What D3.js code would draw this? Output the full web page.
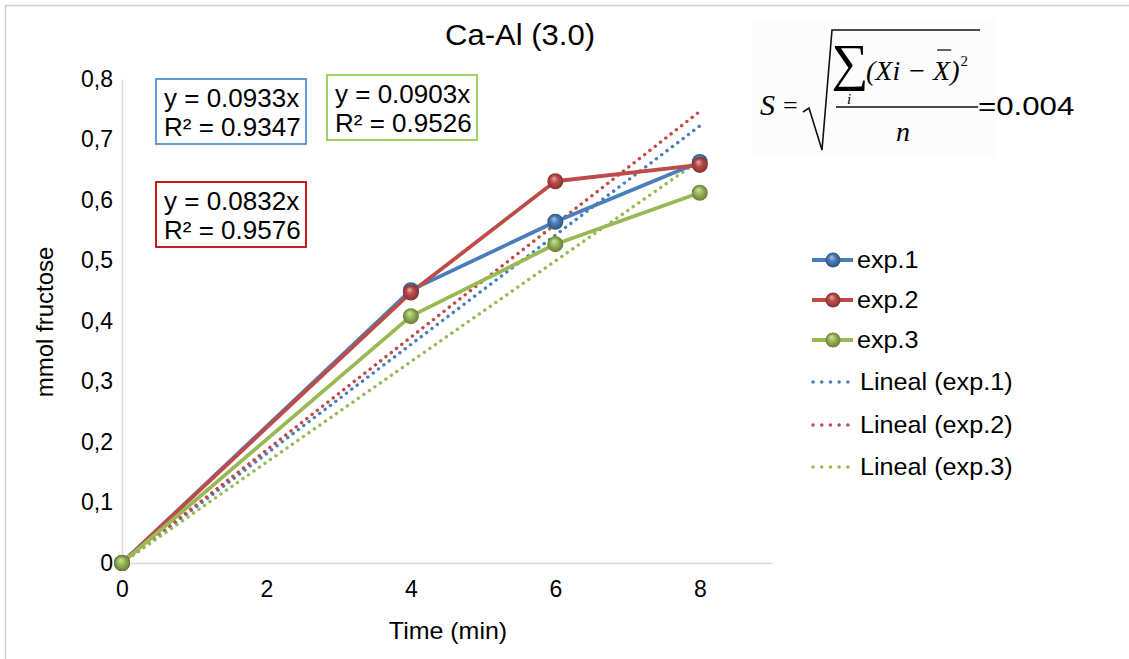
<!DOCTYPE html>
<html>
<head>
<meta charset="utf-8">
<script src="https://cdn.jsdelivr.net/npm/d3@7"></script>
<style>
  html, body { margin: 0; padding: 0; background: #fff; }
  svg { display: block; font-family: "Liberation Sans", Arial, sans-serif; }
</style>
</head>
<body>
<svg id="chart" width="1129" height="659"></svg>
<script>
// ---- data ----
const times = [0, 4, 6, 8];
const seriesNames = ["exp.1", "exp.2", "exp.3"];
const exp1 = [0, 0.451, 0.564, 0.663];
const exp2 = [0, 0.447, 0.631, 0.658];
const exp3 = [0, 0.408, 0.527, 0.612];
const seriesColors = ["#4a7ebb", "#be4b48", "#98b954"];

// linear fits through the origin, as printed in the equation boxes
const eqSlopes = [0.0933, 0.0903, 0.0832];
const eqR2 = ["0.9347", "0.9526", "0.9576"];
const eqBoxColors = ["#558ed5", "#92d050", "#c00000"];
// which equation belongs to each series' trend line
const trendEq = [1, 0, 2];

const xTicks = [0, 2, 4, 6, 8];
const yTicks = [0, 0.1, 0.2, 0.3, 0.4, 0.5, 0.6, 0.7, 0.8];
const title = "Ca-Al (3.0)";
const xTitle = "Time (min)";
const yTitle = "mmol fructose";
const stdText = "=0.004";

const values = [exp1, exp2, exp3];

const svg = d3.select("#chart");

// outer frame (top and left edges)
svg.append("line").attr("x1", 5).attr("x2", 1129).attr("y1", 5.5).attr("y2", 5.5)
  .attr("stroke", "#d0d0d0").attr("stroke-width", 1.5);
svg.append("line").attr("x1", 5.5).attr("x2", 5.5).attr("y1", 5).attr("y2", 659)
  .attr("stroke", "#d0d0d0").attr("stroke-width", 1.5);

const x = d3.scaleLinear().domain([0, 9]).range([122, 772]);
const y = d3.scaleLinear().domain([0, 0.8]).range([563, 79]);

// gradients for the glossy markers
const defs = svg.append("defs");
seriesColors.forEach((c, i) => {
  const g = defs.append("radialGradient").attr("id", "ball" + i)
    .attr("cx", "50%").attr("cy", "50%").attr("r", "50%")
    .attr("fx", "40%").attr("fy", "30%");
  g.append("stop").attr("offset", "0%").attr("stop-color", d3.interpolateRgb(c, "#fff")(0.55));
  g.append("stop").attr("offset", "45%").attr("stop-color", c);
  g.append("stop").attr("offset", "100%").attr("stop-color", d3.color(c).darker(1.1));
});

// text helper with horizontal stretch
function stretchedText(parent, str, px, py, size, sx, anchor, opts = {}) {
  const g = parent.append("g").attr("transform", `translate(${px},${py}) scale(${sx},1)`);
  const t = g.append("text").attr("x", 0).attr("y", 0)
    .attr("font-size", size).attr("text-anchor", anchor || "start")
    .attr("dy", "0.35em").attr("fill", opts.fill || "#000").text(str);
  if (opts.family) t.attr("font-family", opts.family);
  if (opts.style) t.attr("font-style", opts.style);
  return t;
}

// axes
const yAxis = d3.axisLeft(y).tickValues(yTicks).tickSize(0).tickPadding(9)
  .tickFormat(d => d === 0 ? "0" : d3.format(".1f")(d).replace(".", ","));
const gy = svg.append("g").attr("transform", "translate(122,0)").call(yAxis);
gy.select(".domain").attr("stroke", "#d9d9d9").attr("stroke-width", 1.5);
gy.selectAll("text").attr("font-size", 23).attr("fill", "#000")
  .attr("font-family", "'Liberation Sans', Arial, sans-serif");

const xAxis = d3.axisBottom(x).tickValues(xTicks).tickSize(0).tickPadding(18)
  .tickFormat(d3.format("d"));
const gx = svg.append("g").attr("transform", "translate(0,563)").call(xAxis);
gx.select(".domain").attr("stroke", "#d9d9d9").attr("stroke-width", 1.5);
gx.selectAll("text").attr("font-size", 23).attr("fill", "#000")
  .attr("font-family", "'Liberation Sans', Arial, sans-serif");

// titles
stretchedText(svg, title, 520, 35, 29, 1.07, "middle");
stretchedText(svg, xTitle, 448, 631, 24, 1.04, "middle");
svg.append("text").attr("transform", "translate(45,322) rotate(-90)")
  .attr("text-anchor", "middle").attr("dy", "0.35em").attr("font-size", 24).text(yTitle);

// trend lines (dotted)
const plot = svg.append("g");
values.forEach((v, i) => {
  const k = eqSlopes[trendEq[i]];
  plot.append("line")
    .attr("x1", x(0)).attr("y1", y(0))
    .attr("x2", x(times[times.length - 1])).attr("y2", y(k * times[times.length - 1]))
    .attr("stroke", seriesColors[i]).attr("stroke-width", 3.4)
    .attr("stroke-linecap", "round").attr("stroke-dasharray", "0.1 6.6");
});

// series lines and markers
const line = d3.line().x((d, j) => x(times[j])).y(d => y(d));
values.forEach((v, i) => {
  plot.append("path").datum(v).attr("d", line)
    .attr("fill", "none").attr("stroke", seriesColors[i])
    .attr("stroke-width", 3.8).attr("stroke-linejoin", "round");
});
values.forEach((v, i) => {
  plot.selectAll(null).data(v).enter().append("circle")
    .attr("cx", (d, j) => x(times[j])).attr("cy", d => y(d)).attr("r", 8)
    .attr("fill", `url(#ball${i})`);
});

// equation boxes
const eqBoxes = [
  { x: 156, y: 79 }, { x: 327, y: 75 }, { x: 156, y: 182 }
];
eqSlopes.forEach((k, i) => {
  const b = eqBoxes[i];
  svg.append("rect").attr("x", b.x).attr("y", b.y).attr("width", 150).attr("height", 65)
    .attr("fill", "#fff").attr("stroke", eqBoxColors[i]).attr("stroke-width", 1.8);
  stretchedText(svg, `y = ${k.toFixed(4)}x`, b.x + 8, b.y + 19, 26, 1.0, "start");
  stretchedText(svg, `R² = ${eqR2[i]}`, b.x + 8, b.y + 48, 26, 1.0, "start");
});

// legend
const lg = svg.append("g");
const legRowsSolid = [260, 300, 340];
const legRowsTrend = [382, 425, 467];
seriesNames.forEach((n, i) => {
  const ry = legRowsSolid[i];
  lg.append("line").attr("x1", 812).attr("x2", 853).attr("y1", ry).attr("y2", ry)
    .attr("stroke", seriesColors[i]).attr("stroke-width", 3.8);
  lg.append("circle").attr("cx", 833).attr("cy", ry).attr("r", 7.5).attr("fill", `url(#ball${i})`);
  stretchedText(lg, n, 857, ry, 24, 1.05, "start");
});
seriesNames.forEach((n, i) => {
  const ry = legRowsTrend[i];
  lg.append("line").attr("x1", 813).attr("x2", 848).attr("y1", ry).attr("y2", ry)
    .attr("stroke", seriesColors[i]).attr("stroke-width", 3.4)
    .attr("stroke-linecap", "round").attr("stroke-dasharray", "0.1 8.6");
  stretchedText(lg, `Lineal (${n})`, 860, ry, 24, 1.05, "start");
});

// standard deviation formula
const f = svg.append("g");
const serif = "'Liberation Serif', 'DejaVu Serif', serif";
f.append("rect").attr("x", 752).attr("y", 18).attr("width", 245).attr("height", 140).attr("fill", "#fcfcfc");
f.append("text").attr("x", 760).attr("y", 115).attr("font-family", serif).attr("font-style", "italic")
  .attr("font-size", 30).text("S");
f.append("text").attr("x", 783).attr("y", 114).attr("font-family", serif).attr("font-size", 26).text("=");
f.append("path").attr("d", "M803,112 L809,108 L822,150 L832,30 L980,30")
  .attr("fill", "none").attr("stroke", "#111").attr("stroke-width", 1.6).attr("stroke-linejoin", "miter");
f.append("text").attr("x", 850).attr("y", 80).attr("text-anchor", "middle")
  .attr("font-family", serif).attr("font-size", 52).text("∑");
f.append("text").attr("x", 849).attr("y", 104).attr("text-anchor", "middle")
  .attr("font-family", serif).attr("font-style", "italic").attr("font-size", 15).text("i");
const paren = f.append("text").attr("x", 866).attr("y", 80).attr("font-family", serif)
  .attr("font-style", "italic").attr("font-size", 28).text("(Xi − X)");
// overbar on X̄ and the square, placed from the measured glyphs
const pNode = paren.node();
const n = pNode.getNumberOfChars();
const xStart = pNode.getStartPositionOfChar(n - 2).x;
const xEnd = pNode.getEndPositionOfChar(n - 2).x;
const pEnd = pNode.getEndPositionOfChar(n - 1).x;
f.append("line").attr("x1", xStart + 4).attr("x2", xEnd + 1).attr("y1", 50).attr("y2", 50)
  .attr("stroke", "#111").attr("stroke-width", 1.3);
f.append("text").attr("x", pEnd + 1).attr("y", 66).attr("font-family", serif).attr("font-size", 15).text("2");
f.append("line").attr("x1", 836).attr("x2", 978).attr("y1", 107).attr("y2", 107)
  .attr("stroke", "#111").attr("stroke-width", 1.4);
f.append("text").attr("x", 903).attr("y", 141).attr("text-anchor", "middle")
  .attr("font-family", serif).attr("font-style", "italic").attr("font-size", 28).text("n");
stretchedText(f, stdText, 978, 106, 26, 1.2, "start");
</script>
</body>
</html>
